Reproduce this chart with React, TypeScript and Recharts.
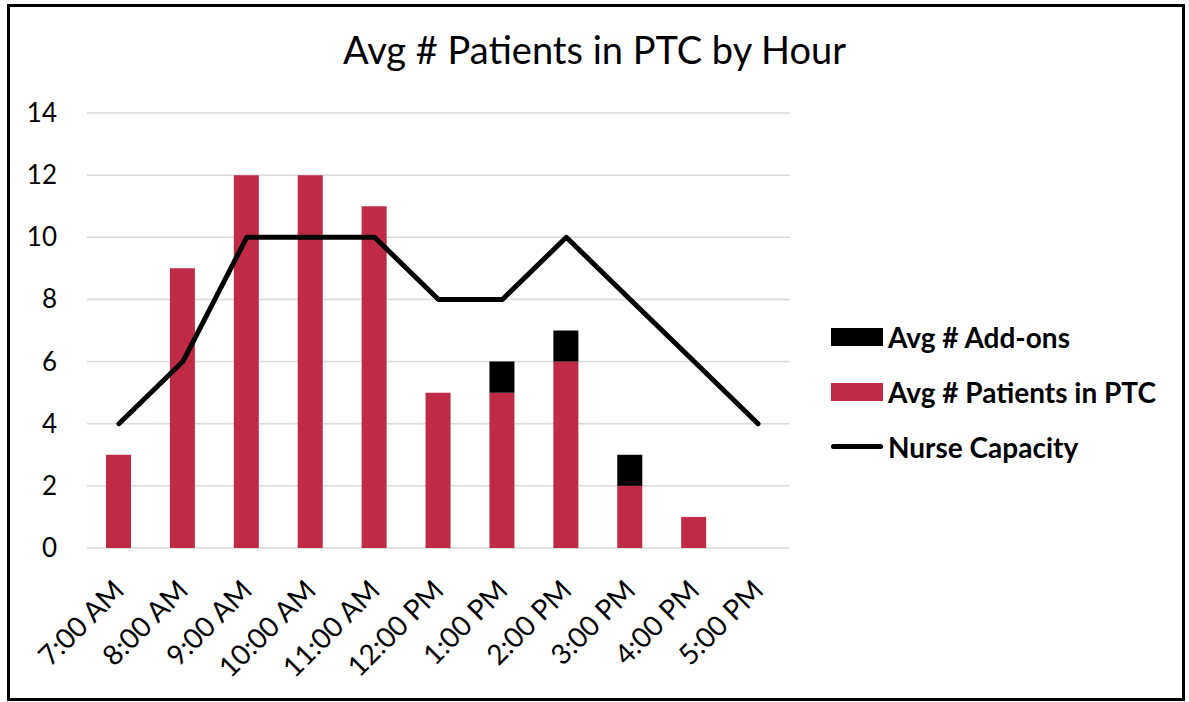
import React from "react";
import {
  Bar,
  CartesianGrid,
  ComposedChart,
  Line,
  XAxis,
  YAxis,
} from "recharts";

const hours = [
  "7:00 AM",
  "8:00 AM",
  "9:00 AM",
  "10:00 AM",
  "11:00 AM",
  "12:00 PM",
  "1:00 PM",
  "2:00 PM",
  "3:00 PM",
  "4:00 PM",
  "5:00 PM",
];
const patients = [3, 9, 12, 12, 11, 5, 5, 6, 2, 1, 0];
const addOns = [0, 0, 0, 0, 0, 0, 1, 1, 1, 0, 0];
const nurseCapacity = [4, 6, 10, 10, 10, 8, 8, 10, 8, 6, 4];
const yTicks = [0, 2, 4, 6, 8, 10, 12, 14];

const data = hours.map((hour, i) => ({
  hour,
  patients: patients[i],
  addOns: addOns[i],
  nurse: nurseCapacity[i],
}));

const FONT = "Lato, 'Noto Sans', sans-serif";
const RED = "#c02a47";

function HourTick({ x, y, payload }: any) {
  const ax = x + 7;
  const ay = y + 36;
  return (
    <text
      x={ax}
      y={ay}
      transform={`rotate(-45 ${ax} ${ay})`}
      textAnchor="end"
      fontSize={28}
      fontFamily={FONT}
      fill="#000"
    >
      {payload.value}
    </text>
  );
}

function CountTick({ y, payload }: any) {
  return (
    <text
      x={57}
      y={y}
      dy={9}
      textAnchor="end"
      fontSize={26}
      fontFamily={FONT}
      fill="#000"
    >
      {payload.value}
    </text>
  );
}

const legendItems = [
  { label: "Avg # Add-ons", kind: "box", color: "#000" },
  { label: "Avg # Patients in PTC", kind: "box", color: RED },
  { label: "Nurse Capacity", kind: "line", color: "#000" },
];

export default function App() {
  return (
    <div
      style={{
        position: "absolute",
        left: 0,
        top: 0,
        width: 1189,
        height: 702,
        background: "#fff",
        overflow: "hidden",
        fontFamily: FONT,
      }}
    >
      <div
        style={{
          position: "absolute",
          left: 7,
          top: 4,
          width: 1178,
          height: 697,
          border: "3px solid #000",
          boxSizing: "border-box",
        }}
      />
      <div
        style={{
          position: "absolute",
          left: 0,
          width: 1189,
          top: 26,
          textAlign: "center",
          fontSize: 38,
          color: "#000",
        }}
      >
        Avg # Patients in PTC by Hour
      </div>
      <ComposedChart
        width={1189}
        height={702}
        data={data}
        margin={{ top: 113, right: 399, bottom: 0, left: 0 }}
        style={{ position: "absolute", left: 0, top: 0 }}
      >
        <CartesianGrid vertical={false} stroke="#d9d9d9" strokeWidth={1.5} />
        <XAxis
          dataKey="hour"
          height={154}
          axisLine={false}
          tickLine={false}
          interval={0}
          tick={<HourTick />}
        />
        <YAxis
          width={87}
          domain={[0, 14]}
          ticks={yTicks}
          axisLine={false}
          tickLine={false}
          tick={<CountTick />}
        />
        <Bar dataKey="patients" stackId="a" fill={RED} barSize={25} isAnimationActive={false} />
        <Bar dataKey="addOns" stackId="a" fill="#000" barSize={25} isAnimationActive={false} />
        <Line
          dataKey="nurse"
          type="linear"
          stroke="#000"
          strokeWidth={5}
          strokeLinecap="round"
          strokeLinejoin="round"
          dot={false}
          activeDot={false}
          isAnimationActive={false}
        />
      </ComposedChart>
      <div style={{ position: "absolute", left: 831, top: 309 }}>
        {legendItems.map((item) => (
          <div
            key={item.label}
            style={{
              display: "flex",
              alignItems: "center",
              height: 55,
              fontWeight: 700,
              fontSize: 28,
              color: "#000",
              whiteSpace: "nowrap",
            }}
          >
            {item.kind === "box" ? (
              <span style={{ width: 52, height: 18, background: item.color, marginRight: 5 }} />
            ) : (
              <span
                style={{
                  width: 52,
                  height: 5,
                  borderRadius: 3,
                  background: item.color,
                  marginRight: 5,
                }}
              />
            )}
            {item.label}
          </div>
        ))}
      </div>
    </div>
  );
}
